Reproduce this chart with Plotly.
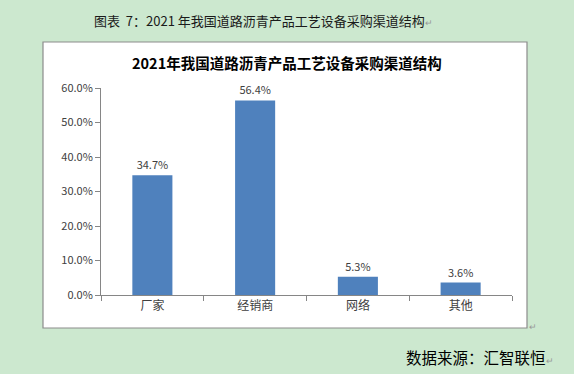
import plotly.graph_objects as go

categories = ["厂家", "经销商", "网络", "其他"]
values = [34.7, 56.4, 5.3, 3.6]
labels = ["34.7%", "56.4%", "5.3%", "3.6%"]
y_ticks = [0, 10, 20, 30, 40, 50, 60]
y_tick_text = ["0.0%", "10.0%", "20.0%", "30.0%", "40.0%", "50.0%", "60.0%"]

W, H = 574, 374
L, R, T, B = 101, 62, 88, 79

fig = go.Figure(go.Bar(
    x=categories, y=values, text=labels, textposition="outside",
    marker=dict(color="#4f81bd", line=dict(width=0)),
    textfont=dict(family="Noto Sans CJK SC, Noto Sans", size=11, color="#404040"),
    cliponaxis=False,
))

fig.update_layout(
    width=W, height=H,
    margin=dict(l=L, r=R, t=T, b=B),
    paper_bgcolor="#cce8cf",
    plot_bgcolor="white",
    bargap=0.61,
    showlegend=False,
    font=dict(family="Noto Sans CJK SC", color="#404040"),
    xaxis=dict(
        showgrid=False, showline=True, linecolor="#868686", linewidth=1,
        ticks="outside", tickson="boundaries", ticklen=5, tickcolor="#868686",
        tickfont=dict(size=12, color="#404040"),
    ),
    yaxis=dict(
        range=[0, 60], tickvals=y_ticks, ticktext=y_tick_text,
        showgrid=False, showline=True, linecolor="#868686", linewidth=1,
        ticks="outside", ticklen=5, tickcolor="#868686", zeroline=False,
        tickfont=dict(size=11, color="#404040"),
    ),
    shapes=[dict(type="rect", xref="paper", yref="paper",
                 x0=(43 - L) / (W - L - R), x1=(527 - L) / (W - L - R),
                 y0=(H - B - 328) / (H - T - B), y1=(H - B - 42) / (H - T - B),
                 fillcolor="white", line=dict(color="#8c8c8c", width=1.2),
                 layer="below")],
    annotations=[
        dict(text="图表  7：2021 年我国道路沥青产品工艺设备采购渠道结构<span style='color:#999;font-size:9px'>↵</span>",
             xref="paper", yref="paper", x=(263 - L) / (W - L - R), y=(H - B - 20) / (H - T - B),
             showarrow=False, xanchor="center", yanchor="middle",
             font=dict(family="Noto Sans CJK SC", size=13, color="#1a1a1a")),
        dict(text="<b>2021年我国道路沥青产品工艺设备采购渠道结构</b>",
             xref="paper", yref="paper", x=(287 - L) / (W - L - R), y=(H - B - 62) / (H - T - B),
             showarrow=False, xanchor="center", yanchor="middle",
             font=dict(family="Noto Sans CJK SC", size=14.5, color="#000000")),
        dict(text="数据来源：汇智联恒<span style='color:#999;font-size:9px'>↵</span>",
             xref="paper", yref="paper", x=(404 - L) / (W - L - R), y=(H - B - 357) / (H - T - B),
             showarrow=False, xanchor="left", yanchor="middle",
             font=dict(family="Noto Sans CJK SC", size=15.5, color="#000000")),
        dict(text="↵", xref="paper", yref="paper", x=(533 - L) / (W - L - R), y=(H - B - 326) / (H - T - B),
             showarrow=False, xanchor="center", yanchor="middle",
             font=dict(family="Noto Sans CJK SC", size=9, color="#999999")),
    ],
)

fig.write_html("out.html", config={"displayModeBar": False},
               post_script="document.body.style.margin='0';document.body.style.padding='0';")
